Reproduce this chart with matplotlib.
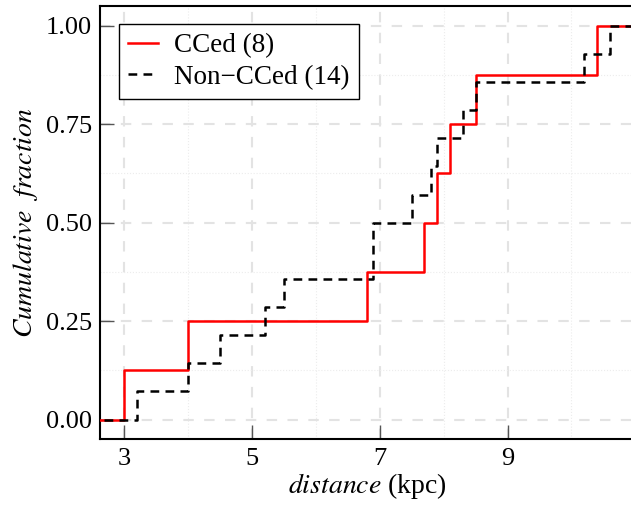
import numpy as np
import matplotlib
matplotlib.use("Agg")
import matplotlib.pyplot as plt
from matplotlib.ticker import MultipleLocator

plt.rcParams['font.family'] = ['Liberation Serif', 'DejaVu Serif']
plt.rcParams['mathtext.fontset'] = 'stix'

# distances (kpc) of the two samples
cced_dist = [3.0, 4.0, 6.8, 7.7, 7.9, 8.1, 8.5, 10.4]
noncced_dist = [3.2, 4.0, 4.5, 5.2, 5.5, 6.9, 6.9, 7.5, 7.8, 7.9, 8.3, 8.5, 10.2, 10.6]

x_ticks = [3, 5, 7, 9]
y_ticks = [0.0, 0.25, 0.5, 0.75, 1.0]


def ecdf(vals):
    # cumulative fraction, padded so the steps run off both ends of the axes
    xs = np.sort(np.asarray(vals, dtype=float))
    ys = np.arange(1, len(xs) + 1) / len(xs)
    return np.r_[-100, xs, 100], np.r_[0, ys, 1]


fig = plt.figure(figsize=(6.31, 5.05), dpi=100)
ax = fig.add_axes([100 / 631, 1 - 439.3 / 505, 534 / 631, 433.3 / 505])

x, y = ecdf(cced_dist)
ax.step(x, y, where='post', color='red', lw=1.8, label='CCed (%d)' % len(cced_dist), zorder=3)
x, y = ecdf(noncced_dist)
ax.step(x, y, where='post', color='black', lw=1.8, ls=(0, (3.5, 2.5)),
        label='Non\u2212CCed (%d)' % len(noncced_dist), zorder=4)

ax.set_xlim(2.62, 10.98)
ax.set_ylim(-0.05, 1.05)
ax.set_xticks(x_ticks)
ax.set_yticks(y_ticks)
ax.set_yticklabels(['%.2f' % v for v in y_ticks])
ax.xaxis.set_minor_locator(MultipleLocator(1))
ax.yaxis.set_minor_locator(MultipleLocator(0.125))

ax.grid(which='major', color='#e3e3e3', lw=1.5, ls=(0, (5, 5)), zorder=0)
ax.grid(which='minor', color='#ececec', lw=0.8, ls=':', zorder=0)
ax.set_axisbelow(True)

ax.tick_params(which='major', direction='in', length=10, width=1, color='#555555',
               labelsize=19, pad=6)
ax.tick_params(which='minor', length=0)
for sp in ax.spines.values():
    sp.set_linewidth(1.5)
    sp.set_color('black')

ax.set_xlabel(r'$distance$ (kpc)', fontsize=20, labelpad=1)
ax.set_ylabel(r'$Cumulative\ \ fraction$', fontsize=20, labelpad=4)

leg = ax.legend(loc='upper left', bbox_to_anchor=(0.036, 0.958), borderaxespad=0,
                fontsize=19.5, fancybox=False, framealpha=1, edgecolor='black',
                handlelength=1.1, handletextpad=0.6, borderpad=0.33, labelspacing=0.25)
leg.get_frame().set_linewidth(1.0)

fig.savefig('out.png', dpi=100)
